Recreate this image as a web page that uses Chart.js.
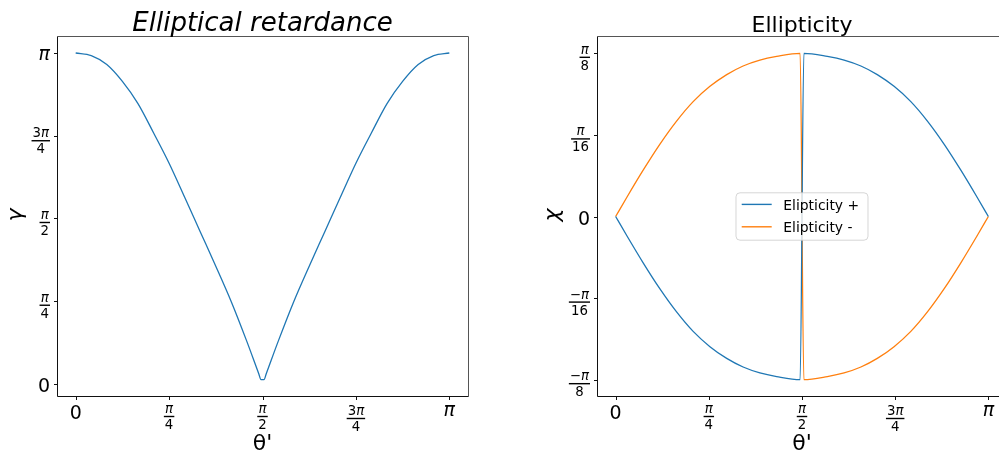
<!DOCTYPE html>
<html>
<head>
<meta charset="utf-8">
<script src="https://cdn.jsdelivr.net/npm/chart.js@4"></script>
<style>
  html, body { margin: 0; padding: 0; background: #fff; overflow: hidden; width: 999px; height: 452px; }
  canvas { position: absolute; top: 0; }
  #left { left: 0; }
  #right { left: 520px; }
</style>
</head>
<body>
<canvas id="left" width="500" height="452"></canvas>
<canvas id="right" width="520" height="452"></canvas>
<script>
// all angles are in units of pi
const leftTheta = [0, 0.0417, 0.0833, 0.125, 0.1667, 0.2083, 0.25, 0.2917, 0.3333, 0.375, 0.4167, 0.4583, 0.490, 0.496,
                   0.504, 0.510, 0.5417, 0.5833, 0.625, 0.6667, 0.7083, 0.75, 0.7917, 0.8333, 0.875, 0.9167, 0.9583, 1];
const leftGamma = [1.0, 0.992, 0.965, 0.914, 0.847, 0.759, 0.667, 0.564, 0.460, 0.356, 0.248, 0.128, 0.031, 0.013,
                   0.013, 0.031, 0.128, 0.248, 0.356, 0.460, 0.564, 0.667, 0.759, 0.847, 0.914, 0.965, 0.992, 1.0];

const rightTheta = [0, 0.029, 0.073, 0.118, 0.163, 0.208, 0.253, 0.298, 0.342, 0.387, 0.432, 0.495,
                    0.505, 0.568, 0.613, 0.658, 0.702, 0.747, 0.792, 0.837, 0.882, 0.927, 0.971, 1];
const ellipPlus = [0, -0.0142, -0.0351, -0.0551, -0.0729, -0.0880, -0.0997, -0.1087, -0.1153, -0.1198, -0.1226, -0.125,
                   0.125, 0.1226, 0.1198, 0.1153, 0.1087, 0.0997, 0.0880, 0.0729, 0.0551, 0.0351, 0.0142, 0];
const ellipMinus = [0, 0.0142, 0.0351, 0.0551, 0.0729, 0.0880, 0.0997, 0.1087, 0.1153, 0.1198, 0.1226, 0.125,
                    -0.125, -0.1226, -0.1198, -0.1153, -0.1087, -0.0997, -0.0880, -0.0729, -0.0551, -0.0351, -0.0142, 0];

const thetaTicks = [0, 0.25, 0.5, 0.75, 1];
const thetaLabels = ['0', 'π/4', 'π/2', '3π/4', 'π'];
const gammaTicks = [0, 0.25, 0.5, 0.75, 1];
const gammaLabels = ['0', 'π/4', 'π/2', '3π/4', 'π'];
const chiTicks = [-0.125, -0.0625, 0, 0.0625, 0.125];
const chiLabels = ['−π/8', '−π/16', '0', 'π/16', 'π/8'];

const BLUE = '#1f77b4';
const ORANGE = '#ff7f0e';
const FAM = '"DejaVu Sans", sans-serif';
const BIG = 19;
const SMALL = 13.3;

function toPoints(xs, ys) {
    return xs.map((x, i) => ({ x: x, y: ys[i] }));
}

// split text into runs, pi goes italic like mathtext
function measure(ctx, str, size) {
    const runs = [];
    for (const ch of str) {
        const it = ch === 'π';
        const last = runs[runs.length - 1];
        if (last && last.it === it) last.t += ch;
        else runs.push({ t: ch, it: it });
    }
    let w = 0, asc = 0, desc = 0;
    runs.forEach(r => {
        r.font = (r.it ? 'italic ' : '') + size + 'px ' + FAM;
        ctx.font = r.font;
        const m = ctx.measureText(r.t);
        r.w = m.width;
        w += m.width;
        asc = Math.max(asc, m.actualBoundingBoxAscent);
        desc = Math.max(desc, m.actualBoundingBoxDescent);
    });
    return { runs, w, asc, desc };
}

function drawRuns(ctx, runs, x, base) {
    ctx.textAlign = 'left';
    ctx.textBaseline = 'alphabetic';
    runs.forEach(r => {
        ctx.font = r.font;
        ctx.fillText(r.t, x, base);
        x += r.w;
    });
}

// mode 'x': top at y, centred on x. mode 'y': right edge at x, centred on y
function drawTickLabel(ctx, label, x, y, mode) {
    const parts = label.split('/');
    if (parts.length === 1) {
        const m = measure(ctx, label, BIG);
        const top = mode === 'x' ? y : y + 1.5 - (m.asc + m.desc) / 2;
        const left = mode === 'x' ? x - m.w / 2 : x - m.w;
        drawRuns(ctx, m.runs, left, top + m.asc);
        return;
    }
    const n = measure(ctx, parts[0], SMALL);
    const d = measure(ctx, parts[1], SMALL);
    const barW = Math.max(n.w, d.w) + 2;
    const h = n.asc + n.desc + 3.5 + 2.5 + d.asc + d.desc;
    const top = mode === 'x' ? y : y + 4.5 - h / 2;
    const cx = mode === 'x' ? x : x - barW / 2;
    const nb = top + n.asc;
    const barY = nb + n.desc + 3.5;
    const db = barY + 2.5 + d.asc;
    drawRuns(ctx, n.runs, cx - n.w / 2, nb);
    ctx.fillRect(cx - barW / 2, barY - 0.7, barW, 1.4);
    drawRuns(ctx, d.runs, cx - d.w / 2, db);
}

function drawLegend(chart) {
    const ctx = chart.ctx;
    const a = chart.chartArea;
    const w = 132, h = 47.4;
    const x0 = (a.left + a.right) / 2 - w / 2;
    const y0 = (a.top + a.bottom) / 2 - h / 2;
    const r = 4;
    ctx.save();
    ctx.beginPath();
    ctx.moveTo(x0 + r, y0);
    ctx.arcTo(x0 + w, y0, x0 + w, y0 + h, r);
    ctx.arcTo(x0 + w, y0 + h, x0, y0 + h, r);
    ctx.arcTo(x0, y0 + h, x0, y0, r);
    ctx.arcTo(x0, y0, x0 + w, y0, r);
    ctx.closePath();
    ctx.fillStyle = 'rgba(255,255,255,0.8)';
    ctx.fill();
    ctx.strokeStyle = 'rgba(204,204,204,0.8)';
    ctx.lineWidth = 1;
    ctx.stroke();
    chart.data.datasets.forEach((ds, i) => {
        const ry = y0 + 11.6 + i * 22.4;
        ctx.strokeStyle = ds.borderColor;
        ctx.lineWidth = 1.4;
        ctx.beginPath();
        ctx.moveTo(x0 + 5.7, ry);
        ctx.lineTo(x0 + 35.7, ry);
        ctx.stroke();
        ctx.fillStyle = '#000';
        ctx.font = '13.9px ' + FAM;
        ctx.textAlign = 'left';
        ctx.textBaseline = 'alphabetic';
        ctx.fillText(ds.label, x0 + 47.3, ry + 5.1);
    });
    ctx.restore();
}

function decorPlugin(cfg) {
    return {
        id: 'decor',
        afterDatasetsDraw(chart) {
            if (cfg.legend) drawLegend(chart);
        },
        afterDraw(chart) {
            const ctx = chart.ctx;
            const a = chart.chartArea;
            const xs = chart.scales.x, ys = chart.scales.y;
            ctx.save();
            // spines
            ctx.lineWidth = 1;
            ctx.strokeStyle = '#555';
            ctx.beginPath();
            ctx.moveTo(a.left + 0.5, a.top - 0.5);
            ctx.lineTo(a.right + 0.5, a.top - 0.5);
            ctx.lineTo(a.right + 0.5, a.bottom + 0.5);
            ctx.stroke();
            ctx.strokeStyle = '#111';
            ctx.beginPath();
            ctx.moveTo(a.left + 0.5, a.top - 0.5);
            ctx.lineTo(a.left + 0.5, a.bottom + 0.5);
            ctx.lineTo(a.right + 0.5, a.bottom + 0.5);
            ctx.stroke();

            // tick marks + labels
            ctx.fillStyle = '#000';
            ctx.strokeStyle = '#111';
            cfg.xTicks.forEach((v, i) => {
                const px = Math.round(xs.getPixelForValue(v)) + 0.5;
                ctx.beginPath();
                ctx.moveTo(px, a.bottom + 0.5);
                ctx.lineTo(px, a.bottom + 4);
                ctx.stroke();
                drawTickLabel(ctx, cfg.xLabels[i], xs.getPixelForValue(v), a.bottom + 9, 'x');
            });
            cfg.yTicks.forEach((v, i) => {
                const py = Math.round(ys.getPixelForValue(v)) + 0.5;
                ctx.beginPath();
                ctx.moveTo(a.left + 0.5, py);
                ctx.lineTo(a.left - 3, py);
                ctx.stroke();
                drawTickLabel(ctx, cfg.yLabels[i], a.left - 7, ys.getPixelForValue(v), 'y');
            });

            // title
            const cx = (a.left + a.right) / 2;
            ctx.font = cfg.titleFont;
            ctx.textAlign = 'center';
            ctx.textBaseline = 'alphabetic';
            ctx.fillText(cfg.title, cx, cfg.titleBase);

            // axis titles
            ctx.font = '22px ' + FAM;
            ctx.fillText('θ\'', cx, 450);
            ctx.save();
            ctx.translate(cfg.yTitleX, (a.top + a.bottom) / 2 - 1.5);
            ctx.rotate(-Math.PI / 2);
            ctx.font = 'italic 22px ' + FAM;
            ctx.fillText(cfg.yTitle, 0, 0);
            ctx.restore();
            ctx.restore();
        }
    };
}

function makeChart(id, datasets, cfg) {
    const ctx = document.getElementById(id).getContext('2d');
    return new Chart(ctx, {
        type: 'line',
        data: { datasets: datasets },
        options: {
            responsive: false,
            animation: false,
            devicePixelRatio: 1,
            layout: { padding: { top: 37, right: cfg.padRight, left: 0, bottom: 0 } },
            plugins: { legend: { display: false }, title: { display: false }, tooltip: { enabled: false } },
            elements: { point: { radius: 0 }, line: { borderWidth: 1.3, cubicInterpolationMode: 'monotone' } },
            scales: {
                x: {
                    type: 'linear', min: cfg.xMin, max: cfg.xMax,
                    grid: { display: false }, border: { display: false },
                    ticks: { display: false },
                    afterFit: s => { s.height = 56; }
                },
                y: {
                    type: 'linear', min: cfg.yMin, max: cfg.yMax,
                    grid: { display: false }, border: { display: false },
                    ticks: { display: false },
                    afterFit: s => { s.width = cfg.yWidth; }
                }
            }
        },
        plugins: [decorPlugin(cfg)]
    });
}

makeChart('left', [
    { label: 'γ', data: toPoints(leftTheta, leftGamma), borderColor: BLUE, fill: false }
], {
    padRight: 32, yWidth: 57,
    xMin: -0.05, xMax: 1.05, yMin: -0.0363, yMax: 1.0483,
    xTicks: thetaTicks, xLabels: thetaLabels,
    yTicks: gammaTicks, yLabels: gammaLabels,
    title: 'Elliptical retardance', titleFont: 'italic 26px ' + FAM, titleBase: 31,
    yTitle: 'γ', yTitleX: 21.5, legend: false
});

makeChart('right', [
    { label: 'Elipticity +', data: toPoints(rightTheta, ellipPlus), borderColor: BLUE, fill: false },
    { label: 'Elipticity -', data: toPoints(rightTheta, ellipMinus), borderColor: ORANGE, fill: false }
], {
    padRight: 33, yWidth: 77,
    xMin: -0.05, xMax: 1.05, yMin: -0.1375, yMax: 0.1375,
    xTicks: thetaTicks, xLabels: thetaLabels,
    yTicks: chiTicks, yLabels: chiLabels,
    title: 'Ellipticity', titleFont: '22px ' + FAM, titleBase: 32.3,
    yTitle: 'χ', yTitleX: 39, legend: true
});
</script>
</body>
</html>
